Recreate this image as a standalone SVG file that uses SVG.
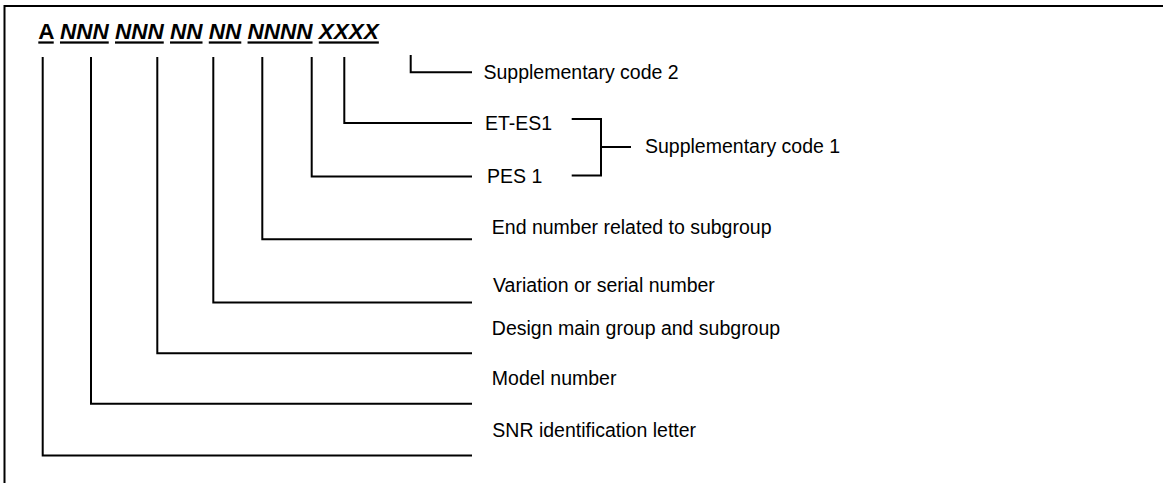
<svg xmlns="http://www.w3.org/2000/svg" width="1163" height="483" viewBox="0 0 1163 483">
<style>
.ln{fill:none;stroke:#000;stroke-width:2;stroke-linecap:butt;stroke-linejoin:miter}
.lbl{font-family:"Liberation Sans",Arial,sans-serif;font-size:19.5px;fill:#000}
.hd{font-family:"Liberation Sans",Arial,sans-serif;font-size:22.5px;font-weight:bold;fill:#000}
.u{text-decoration:underline}
</style>
<rect width="1163" height="483" fill="#fff"/>
<g id="frame">
<path class="ln" d="M4.5,483 V6 H1163"/>
</g>
<g id="heading">
<text class="hd" x="38.3" y="39.4"><tspan class="u">A</tspan> <tspan class="u" font-style="italic">NNN</tspan> <tspan class="u" font-style="italic">NNN</tspan> <tspan class="u" font-style="italic">NN</tspan> <tspan class="u" font-style="italic">NN</tspan> <tspan class="u" font-style="italic">NNNN</tspan> <tspan class="u" font-style="italic">XXXX</tspan></text>
</g>
<g id="connectors">
<path class="ln" d="M42.7,57 V455.5 H472"/>
<path class="ln" d="M91,57 V403.7 H472"/>
<path class="ln" d="M157.3,57 V353.2 H472"/>
<path class="ln" d="M213.3,57 V302.5 H472"/>
<path class="ln" d="M262.3,57 V239.3 H472"/>
<path class="ln" d="M311.7,57 V176.5 H472"/>
<path class="ln" d="M344.3,57 V123 H472"/>
<path class="ln" d="M410.7,55 V72.3 H472"/>
<path class="ln" d="M571.7,119 H601 V175.5 H571.7"/>
<path class="ln" d="M601,147 H631"/>
</g>
<g id="node-supp2"><text class="lbl" x="483.5" y="79">Supplementary code 2</text></g>
<g id="node-etes1"><text class="lbl" x="485" y="130">ET-ES1</text></g>
<g id="node-pes1"><text class="lbl" x="487" y="182.7">PES 1</text></g>
<g id="node-supp1"><text class="lbl" x="645" y="153.3">Supplementary code 1</text></g>
<g id="node-end"><text class="lbl" x="491.8" y="234">End number related to subgroup</text></g>
<g id="node-variation"><text class="lbl" x="493" y="291.7">Variation or serial number</text></g>
<g id="node-design"><text class="lbl" x="491.8" y="335">Design main group and subgroup</text></g>
<g id="node-model"><text class="lbl" x="491.8" y="385">Model number</text></g>
<g id="node-snr"><text class="lbl" x="492.3" y="437.3">SNR identification letter</text></g>
</svg>
